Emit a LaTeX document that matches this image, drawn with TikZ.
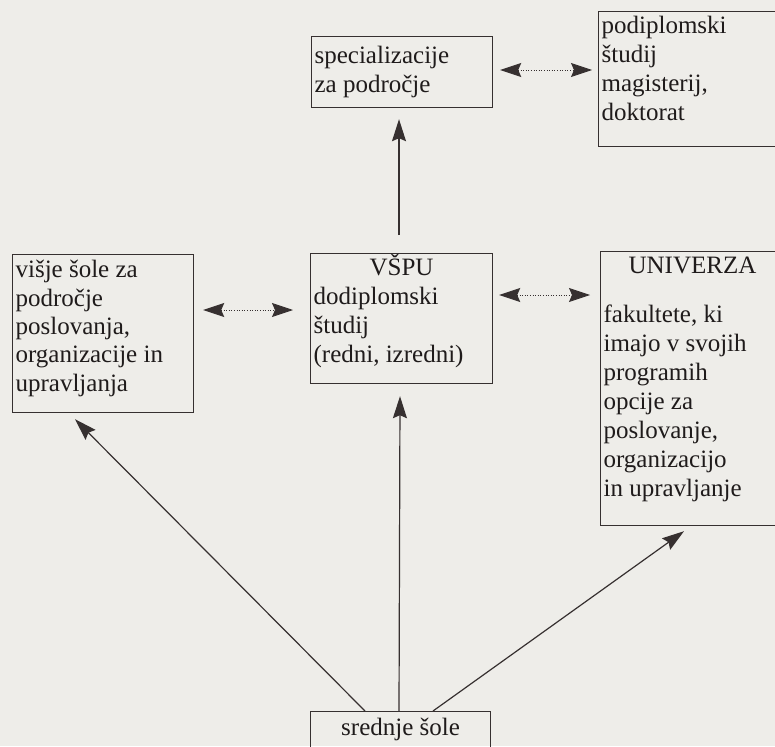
\documentclass[tikz,border=0pt]{standalone}
\usepackage{fontspec}
\setmainfont{Liberation Serif}
\usetikzlibrary{arrows.meta,calc}
\definecolor{bgc}{HTML}{EEEDE9}
\definecolor{ink}{HTML}{1F1B1B}
\definecolor{linec}{HTML}{363030}
\newcommand{\boxtext}[4]{\parbox[t][#2pt][t]{#1pt}{\raggedright\leftskip=3pt\relax\fontsize{25}{29}\selectfont\rule{0pt}{#3pt}#4}}
\tikzset{
  boxnode/.style={draw=linec, line width=1.2pt, inner sep=0pt, anchor=north west, text=ink},
  conn/.style={draw=linec, line width=1.2pt, -{Stealth[length=22pt,width=14pt,inset=3pt]}},
  dconn/.style={draw=linec, line width=0.9pt, dash pattern=on 1pt off 1.6pt,
    {Stealth[length=21pt,width=14pt,inset=3pt,sep=0pt]}-{Stealth[length=21pt,width=14pt,inset=3pt]}}
}
\begin{document}
\begin{tikzpicture}[x=1pt,y=-1pt]
\useasboundingbox (0,0) rectangle (775,746);
\fill[bgc] (0,0) rectangle (775,746);
\clip (0,0) rectangle (775,746);

\node[boxnode] (spec) at (311,36) {\boxtext{181}{71}{27}{specializacije\\za področje}};
\node[boxnode] (podipl) at (598,11) {\boxtext{200}{135}{22}{podiplomski\\študij\\magisterij,\\doktorat}};
\node[boxnode] (visje) at (12,254) {\boxtext{181}{158}{23}{\baselineskip=28.4pt višje šole za\\področje\\poslovanja,\\organizacije in\\upravljanja}};
\node[boxnode] (vspu) at (310,253) {\boxtext{182}{130}{22}{\hspace*{-3pt}\makebox[182pt]{VŠPU}\\dodiplomski\\študij\\(redni, izredni)}};
\node[boxnode] (univ) at (600,251) {\boxtext{200}{274}{22}{\hspace*{25pt}UNIVERZA\\[20pt]fakultete, ki\\imajo v svojih\\programih\\opcije za\\poslovanje,\\organizacijo\\in upravljanje}};
\node[boxnode] (sred) at (310,711) {\boxtext{180}{60}{24}{\hspace*{-3pt}\makebox[180pt]{srednje šole}}};

% arrows from srednje sole
\draw[conn] ($(sred.north west)+(55,0)$) -- ($(visje.south west)+(63,6)$);
\draw[conn] ($(sred.north west)+(89,0)$) -- ($(vspu.south west)+(90,12)$);
\draw[conn] ($(sred.north west)+(123,0)$) -- ($(univ.south west)+(84,5)$);
% VSPU to specializacije
\draw[conn] ($(vspu.north west)+(89,-18)$) -- ($(spec.south west)+(88,11)$);
% dotted double arrows
\draw[dconn] ($(spec.north east)+(7,34)$) -- ($(podipl.north west)+(-6,59)$);
\draw[dconn] ($(visje.north east)+(9,56)$) -- ($(vspu.north west)+(-17,57)$);
\draw[dconn] ($(vspu.north east)+(6,42)$) -- ($(univ.north west)+(-10,44)$);
\end{tikzpicture}
\end{document}
